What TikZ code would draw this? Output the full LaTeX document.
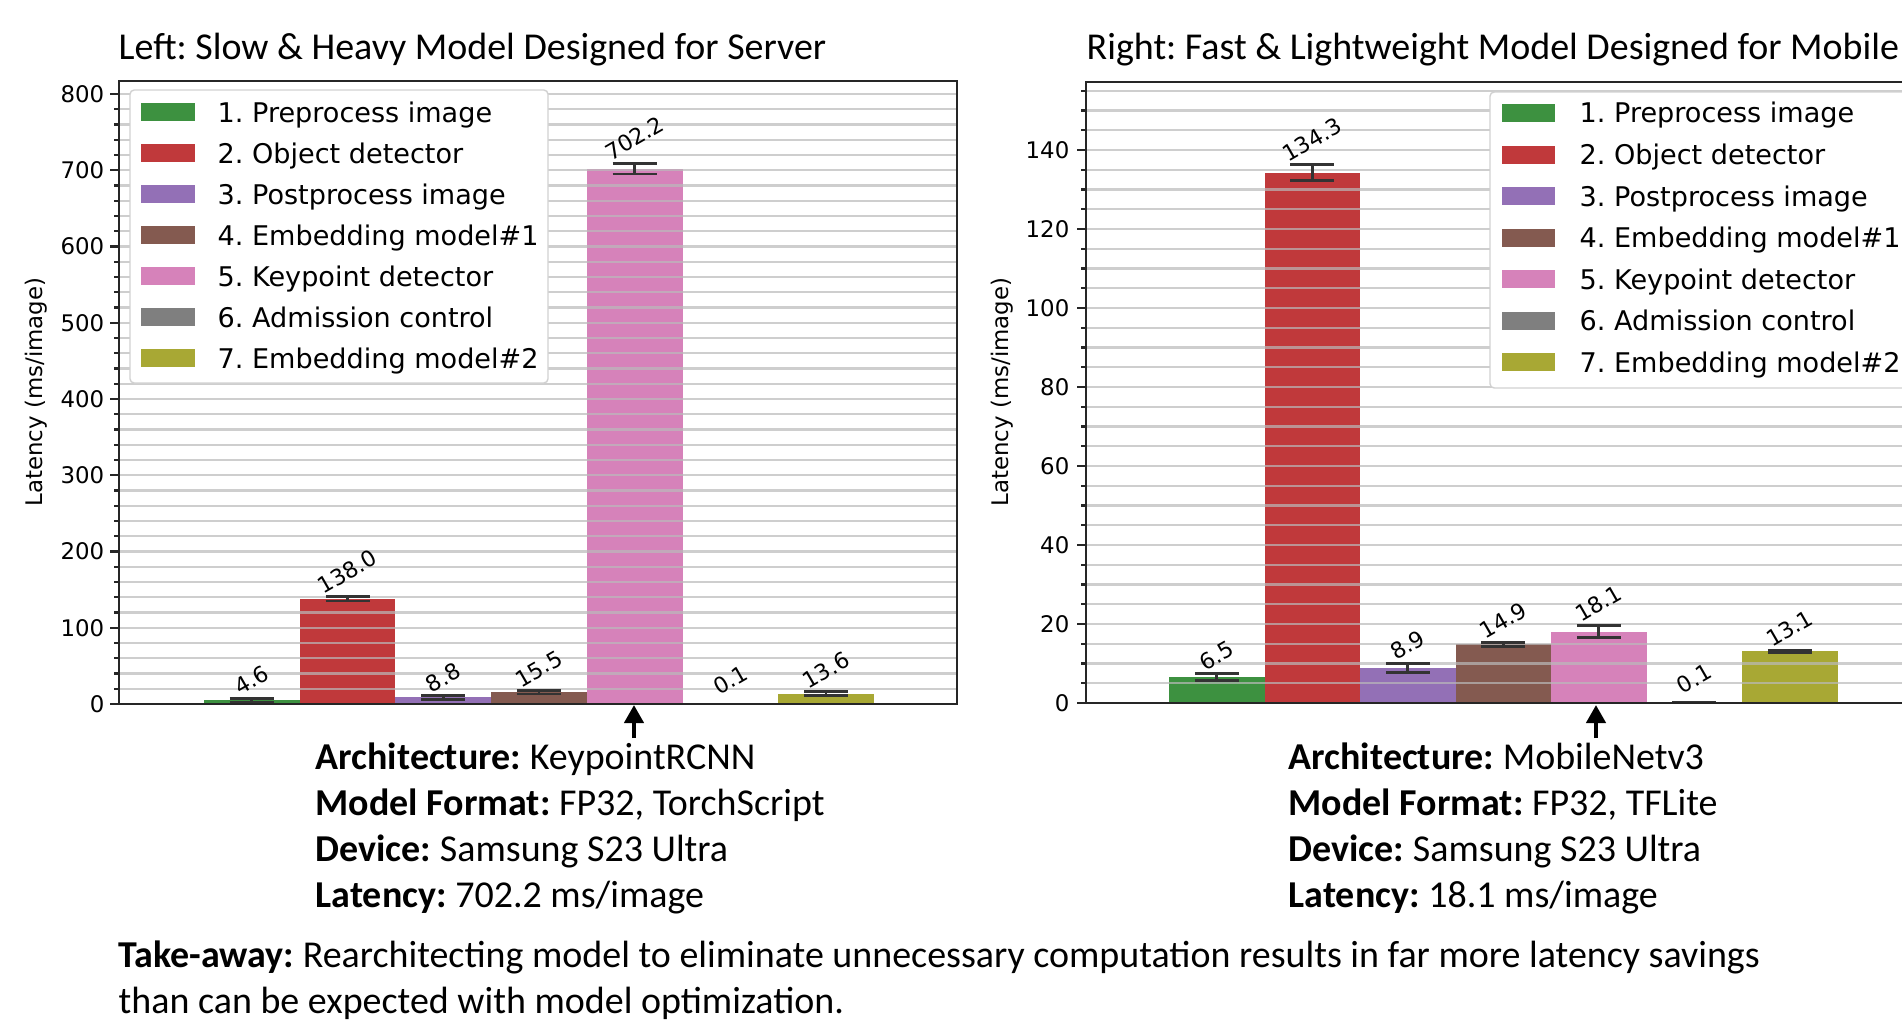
\documentclass[tikz,border=0pt]{standalone}
\usepackage{fontspec}
\setmainfont{Carlito}
\newfontfamily\plotfont{DejaVu Sans}
\usetikzlibrary{arrows.meta}
\definecolor{cPre}{HTML}{3D9140}
\definecolor{cObj}{HTML}{C0393B}
\definecolor{cPost}{HTML}{9370B6}
\definecolor{cEmbA}{HTML}{845A50}
\definecolor{cKey}{HTML}{D682BA}
\definecolor{cAdm}{HTML}{7F7F7F}
\definecolor{cEmbB}{HTML}{A8A834}
% value/error/label base/colour
\def\leftdata{4.6/3/7.6/cPre, 138.0/3/141/cObj, 8.8/2.5/11.3/cPost, 15.5/2.5/18/cEmbA, 702.2/7/709.2/cKey, 0.1/0/8/cAdm, 13.6/2.5/16.1/cEmbB}
\def\rightdata{6.5/0.9/7.4/cPre, 134.3/2/136.3/cObj, 8.9/1.2/10.1/cPost, 14.9/0.5/15.4/cEmbA, 18.1/1.6/19.7/cKey, 0.1/0/1.6/cAdm, 13.1/0.3/13.4/cEmbB}
\def\legdata{cPre/1. Preprocess image, cObj/2. Object detector, cPost/3. Postprocess image, cEmbA/4. Embedding model\#1, cKey/5. Keypoint detector, cAdm/6. Admission control, cEmbB/7. Embedding model\#2}
\frenchspacing

\begin{document}
\begin{tikzpicture}[x=0.01cm, y=-0.01cm,
    every node/.style={inner sep=0pt, text=black},
    gridline/.style={draw=black!27, opacity=0.7, line width=0.6pt},
    spine/.style={draw=black!85, line width=0.6pt},
    errbar/.style={draw=black!80, line width=0.8pt},
    tick/.style={font=\plotfont\fontsize{6.5}{8}\selectfont, anchor=east},
    ylab/.style={font=\plotfont\fontsize{6.5}{8}\selectfont, rotate=90},
    vallab/.style={font=\plotfont\fontsize{6.3}{7.5}\selectfont, rotate=30, anchor=south west},
    legbox/.style={draw=black!18, fill=white, rounded corners=1.2pt, line width=0.4pt},
    legtext/.style={font=\plotfont\fontsize{7.7}{9}\selectfont, anchor=base west},
    title/.style={font=\fontsize{10.8}{13}\selectfont, anchor=base west},
    info/.style={font=\fontsize{10.8}{13.1}\selectfont, align=left, anchor=north west},
    uparrow/.style={-{Triangle[width=1.9mm, length=1.8mm]}, line width=1.2pt}
  ]
  \useasboundingbox (0,0) rectangle (1902,1021);
  \clip (0,0) rectangle (1902,1021);
  \fill[white] (0,0) rectangle (1902,1021);

  % left chart
  \foreach \v/\e/\lb/\col [count=\k] in \leftdata {
    \pgfmathsetmacro\xa{204+(\k-1)*95.7}
    \fill[\col] (\xa,704) rectangle ({\xa+95.7},{704-\v*0.7625});
  }
  \foreach \t in {20,40,...,800}
    \draw[gridline] (119,{704-\t*0.7625}) -- (957,{704-\t*0.7625});
  \foreach \v/\e/\lb/\col [count=\k] in \leftdata {
    \pgfmathsetmacro\cx{204+(\k-0.5)*95.7}
    \pgfmathsetmacro\ya{704-(\v+\e)*0.7625}
    \pgfmathsetmacro\yb{704-(\v-\e)*0.7625}
    \draw[errbar] (\cx,\ya) -- (\cx,\yb) (\cx-22,\ya) -- (\cx+22,\ya) (\cx-22,\yb) -- (\cx+22,\yb);
    \pgfmathsetmacro\nd{\v<10 ? 2 : (\v<100 ? 3 : 4)}
    \pgfmathsetmacro\lx{\cx-0.433*(14.2*\nd+7.1)+4}
    \node[vallab] (lval\k) at (\lx,{704-\lb*0.7625-1}) {\v};
  }
  \draw[spine] (119,81) rectangle (957,704);
  \foreach \t in {20,40,...,780}
    \draw[spine] (114,{704-\t*0.7625}) -- (119,{704-\t*0.7625});
  \foreach \t in {0,100,...,800} {
    \draw[spine] (110,{704-\t*0.7625}) -- (119,{704-\t*0.7625});
    \node[tick] (ltick\t) at (105,{704-\t*0.7625}) {\t};
  }
  \draw[legbox] (130,90) rectangle (548,383);
  \foreach \col/\txt [count=\k] in \legdata {
    \pgfmathsetmacro\ry{112+(\k-1)*41}
    \fill[\col] (141,\ry-9) rectangle (195,\ry+9);
    \node[legtext] (lleg\k) at (217,\ry+10) {\txt};
  }
  \node[ylab] (lylab) at (36,392) {Latency (ms/image)};
  \node[title] (ltitle) at (118,60) {Left: Slow \& Heavy Model Designed for Server};

  % right chart
  \foreach \v/\e/\lb/\col [count=\k] in \rightdata {
    \pgfmathsetmacro\xa{1169+(\k-1)*95.5}
    \fill[\col] (\xa,703) rectangle ({\xa+95.5},{703-\v*3.95});
  }
  \foreach \t in {5,10,...,155}
    \draw[gridline] (1086,{703-\t*3.95}) -- (1902,{703-\t*3.95});
  \foreach \v/\e/\lb/\col [count=\k] in \rightdata {
    \pgfmathsetmacro\cx{1169+(\k-0.5)*95.5}
    \pgfmathsetmacro\ya{703-(\v+\e)*3.95}
    \pgfmathsetmacro\yb{703-(\v-\e)*3.95}
    \draw[errbar] (\cx,\ya) -- (\cx,\yb) (\cx-22,\ya) -- (\cx+22,\ya) (\cx-22,\yb) -- (\cx+22,\yb);
    \pgfmathsetmacro\nd{\v<10 ? 2 : (\v<100 ? 3 : 4)}
    \pgfmathsetmacro\lx{\cx-0.433*(14.2*\nd+7.1)+4}
    \node[vallab] (rval\k) at (\lx,{703-\lb*3.95-1}) {\v};
  }
  \draw[spine] (1086,82) rectangle (1930,703);
  \foreach \t in {5,10,...,155}
    \draw[spine] (1081,{703-\t*3.95}) -- (1086,{703-\t*3.95});
  \foreach \t in {0,20,...,140} {
    \draw[spine] (1077,{703-\t*3.95}) -- (1086,{703-\t*3.95});
    \node[tick] (rtick\t) at (1070,{703-\t*3.95}) {\t};
  }
  \draw[legbox] (1490,92) rectangle (1960,388);
  \foreach \col/\txt [count=\k] in \legdata {
    \pgfmathsetmacro\ry{113+(\k-1)*41.5}
    \fill[\col] (1502,\ry-9) rectangle (1555,\ry+9);
    \node[legtext] (rleg\k) at (1579,\ry+10) {\txt};
  }
  \node[ylab] (rylab) at (1002,392) {Latency (ms/image)};
  \node[title] (rtitle) at (1086,60) {Right: Fast \& Lightweight Model Designed for Mobile};

  % pointers and notes
  \coordinate (lkey) at (634,705);
  \coordinate (lfoot) at (634,738);
  \coordinate (rkey) at (1596,705);
  \coordinate (rfoot) at (1596,738);
  \draw[uparrow] (lfoot) -- (lkey);
  \draw[uparrow] (rfoot) -- (rkey);
  \node[info] (linfo) at (315,742) {\textbf{Architecture:} KeypointRCNN\\
    \textbf{Model Format:} FP32, TorchScript\\
    \textbf{Device:} Samsung S23 Ultra\\
    \textbf{Latency:} 702.2 ms/image};
  \node[info] (rinfo) at (1288,742) {\textbf{Architecture:} MobileNetv3\\
    \textbf{Model Format:} FP32, TFLite\\
    \textbf{Device:} Samsung S23 Ultra\\
    \textbf{Latency:} 18.1 ms/image};
  \node[info] (takeaway) at (118,940) {\textbf{Take-away:} Rearchitecting model to eliminate unnecessary computation results in far more latency savings\\
    than can be expected with model optimization.};
\end{tikzpicture}
\end{document}
